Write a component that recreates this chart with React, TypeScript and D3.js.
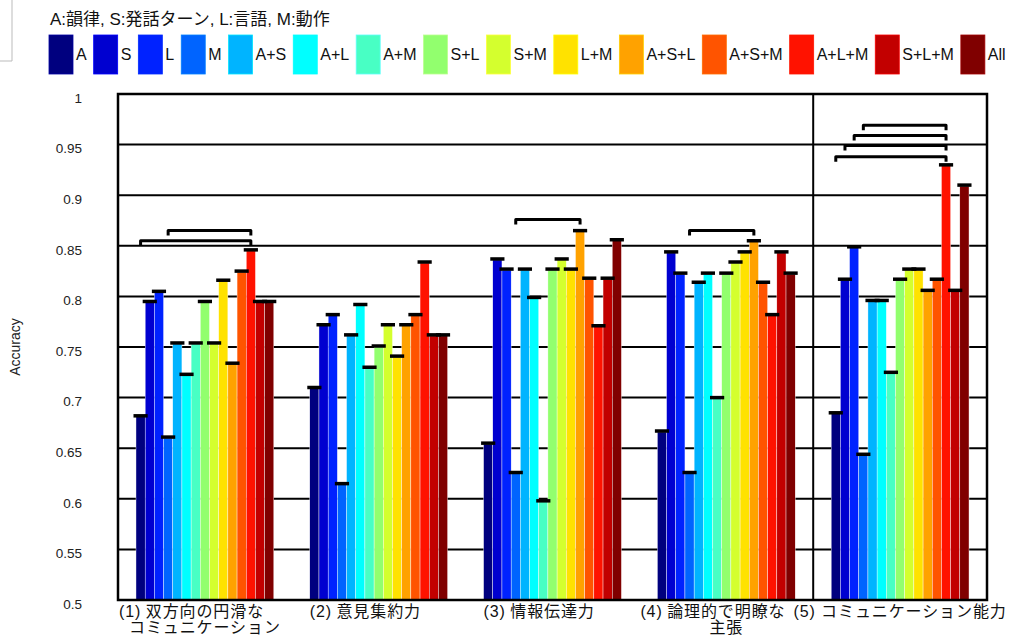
import { useEffect, useRef } from 'react';
import * as d3 from 'd3';

// modality combinations (bar order inside each group)
const modalities = ['A', 'S', 'L', 'M', 'A+S', 'A+L', 'A+M', 'S+L', 'S+M', 'L+M', 'A+S+L', 'A+S+M', 'A+L+M', 'S+L+M', 'All'];
const colors = ['#00007f', '#0000d0', '#0022ff', '#0064ff', '#00b4ff', '#00ffff', '#48ffc4', '#92ff6e', '#d4ff2e', '#ffe200', '#ffa200', '#ff5400', '#ff1200', '#c20000', '#800000'];

// evaluation categories
const prefixes = ['(1)', '(2)', '(3)', '(4)', '(5)'];
const labelLines = [
  ['双方向の円滑な', 'コミュニケーション'],
  ['意見集約力'],
  ['情報伝達力'],
  ['論理的で明瞭な', '主張'],
  ['コミュニケーション能力'],
];

// accuracy per category, in modality order
const cat1 = [0.681, 0.794, 0.804, 0.660, 0.753, 0.722, 0.753, 0.794, 0.753, 0.815, 0.733, 0.824, 0.845, 0.794, 0.794];
const cat2 = [0.709, 0.771, 0.781, 0.614, 0.761, 0.791, 0.729, 0.750, 0.771, 0.740, 0.771, 0.781, 0.833, 0.761, 0.761];
const cat3 = [0.654, 0.836, 0.826, 0.625, 0.826, 0.798, 0.597, 0.826, 0.836, 0.826, 0.864, 0.817, 0.770, 0.817, 0.855];
const cat4 = [0.666, 0.843, 0.822, 0.625, 0.813, 0.822, 0.699, 0.822, 0.833, 0.843, 0.854, 0.813, 0.781, 0.843, 0.822];
const cat5 = [0.684, 0.816, 0.848, 0.643, 0.795, 0.795, 0.724, 0.816, 0.826, 0.826, 0.805, 0.816, 0.929, 0.805, 0.909];
const values = [cat1, cat2, cat3, cat4, cat5];

// significance brackets: category index, from, to, bracket level (accuracy)
const bracketCat = [0, 0, 2, 3, 4, 4, 4, 4];
const bracketFrom = ['M', 'A', 'M', 'M', 'M', 'L', 'S', 'A'];
const bracketTo = ['A+L+M', 'A+L+M', 'A+S+L', 'A+S+L', 'A+L+M', 'A+L+M', 'A+L+M', 'A+L+M'];
const bracketLevel = [0.865, 0.855, 0.876, 0.865, 0.969, 0.959, 0.949, 0.938];

const yTicks = [0.5, 0.55, 0.6, 0.65, 0.7, 0.75, 0.8, 0.85, 0.9, 0.95, 1];

const FONT = '"Liberation Sans", Arial, "Noto Sans CJK JP", sans-serif';

const Chart = () => {
  const svgRef = useRef<SVGSVGElement>(null);

  useEffect(() => {
    const width = 1011;
    const height = 637;
    const margin = { top: 94, right: 24, bottom: 37, left: 118 };
    const svg = d3.select(svgRef.current).attr('width', width).attr('height', height);
    svg.selectAll('*').remove();

    const x0 = d3
      .scaleBand<number>()
      .domain(d3.range(values.length))
      .range([margin.left, width - margin.right])
      .paddingInner(0.207)
      .paddingOuter(0.1035);
    const x1 = d3.scaleBand<string>().domain(modalities).range([0, x0.bandwidth()]);
    const y = d3.scaleLinear().domain([0.5, 1]).range([height - margin.bottom, margin.top]);

    // stray frame corner at top-left
    svg.append('path').attr('d', 'M12,0V61H0').attr('fill', 'none').attr('stroke', '#bbb');

    // title + legend
    svg
      .append('text')
      .attr('x', 50)
      .attr('y', 25)
      .style('font-family', FONT)
      .style('font-size', '17px')
      .attr('fill', '#111')
      .text('A:韻律, S:発話ターン, L:言語, M:動作');

    let lx = 49;
    modalities.forEach((m, i) => {
      svg
        .append('rect')
        .attr('x', lx)
        .attr('y', 35)
        .attr('width', 24)
        .attr('height', 39)
        .attr('fill', colors[i])
        .attr('stroke', d3.color(colors[i])!.brighter(0.7).formatHex())
        .attr('stroke-width', 0.8);
      const t = svg
        .append('text')
        .attr('x', lx + 27)
        .attr('y', 60)
        .style('font-family', FONT)
        .style('font-size', '16px')
        .attr('fill', '#111')
        .text(m);
      const w = (t.node() as SVGTextElement).getComputedTextLength();
      lx += 27 + w + 7;
    });

    // grid lines (behind bars)
    svg
      .append('g')
      .selectAll('line')
      .data(yTicks.slice(1, -1))
      .join('line')
      .attr('x1', margin.left)
      .attr('x2', width - margin.right)
      .attr('y1', d => y(d))
      .attr('y2', d => y(d))
      .attr('stroke', '#000')
      .attr('stroke-width', 2);

    // y tick labels
    svg
      .append('g')
      .selectAll('text')
      .data(yTicks)
      .join('text')
      .attr('x', 82)
      .attr('y', d => y(d) + 4)
      .attr('dy', '0.35em')
      .attr('text-anchor', 'end')
      .style('font-family', FONT)
      .style('font-size', '13.5px')
      .attr('fill', '#222')
      .text(d => String(d));

    svg
      .append('text')
      .attr('transform', `translate(20, ${(margin.top + height - margin.bottom) / 2}) rotate(-90)`)
      .attr('text-anchor', 'middle')
      .style('font-family', FONT)
      .style('font-size', '14px')
      .attr('fill', '#222')
      .text('Accuracy');

    // bars
    const groups = svg
      .append('g')
      .selectAll('g')
      .data(values)
      .join('g')
      .attr('transform', (_, i) => `translate(${x0(i)},0)`);

    groups
      .selectAll('rect')
      .data(d => d)
      .join('rect')
      .attr('x', (_, i) => x1(modalities[i])!)
      .attr('y', d => y(d))
      .attr('width', x1.bandwidth())
      .attr('height', d => y(0.5) - y(d))
      .attr('fill', (_, i) => colors[i])
      .attr('stroke', '#fff')
      .attr('stroke-width', 0.4);

    // error caps
    groups
      .selectAll('line')
      .data(d => d)
      .join('line')
      .attr('x1', (_, i) => x1(modalities[i])! - 2.5)
      .attr('x2', (_, i) => x1(modalities[i])! + x1.bandwidth() + 2.5)
      .attr('y1', d => y(d) - 1)
      .attr('y2', d => y(d) - 1)
      .attr('stroke', '#000')
      .attr('stroke-width', 3.5);

    // frame + divider before last category
    svg
      .append('rect')
      .attr('x', margin.left)
      .attr('y', margin.top)
      .attr('width', width - margin.left - margin.right)
      .attr('height', height - margin.top - margin.bottom)
      .attr('fill', 'none')
      .attr('stroke', '#000')
      .attr('stroke-width', 2.5);

    const divX = x0(values.length - 1)! - (x0.step() - x0.bandwidth()) / 2;
    svg
      .append('line')
      .attr('x1', divX)
      .attr('x2', divX)
      .attr('y1', margin.top)
      .attr('y2', height - margin.bottom)
      .attr('stroke', '#000')
      .attr('stroke-width', 2);

    // significance brackets
    bracketCat.forEach((c, i) => {
      const xa = x0(c)! + x1(bracketFrom[i])! + x1.bandwidth() / 2;
      const xb = x0(c)! + x1(bracketTo[i])! + x1.bandwidth() / 2;
      const yy = y(bracketLevel[i]);
      svg
        .append('path')
        .attr('d', `M${xa},${yy + 5}V${yy}H${xb}V${yy + 5}`)
        .attr('fill', 'none')
        .attr('stroke', '#000')
        .attr('stroke-width', 3)
        .attr('stroke-linejoin', 'round');
    });

    // category labels
    const base = height - margin.bottom + 17;
    labelLines.forEach((lines, i) => {
      const cx = x0(i)! + x0.bandwidth() / 2;
      const label = svg
        .append('g')
        .style('font-family', FONT)
        .style('font-size', '16px')
        .style('letter-spacing', '0.9px')
        .attr('fill', '#111');
      if (i < labelLines.length - 1) {
        const main = label.append('text').attr('x', cx).attr('y', base).attr('text-anchor', 'middle').text(lines[0]);
        const mw = (main.node() as SVGTextElement).getComputedTextLength();
        label
          .append('text')
          .attr('x', cx - mw / 2 - 4.5)
          .attr('y', base)
          .attr('text-anchor', 'end')
          .text(prefixes[i]);
        lines.slice(1).forEach((ln, k) => {
          label
            .append('text')
            .attr('x', cx)
            .attr('y', base + 16 * (k + 1))
            .attr('text-anchor', 'middle')
            .text(ln);
        });
      } else {
        label
          .append('text')
          .attr('x', cx)
          .attr('y', base)
          .attr('text-anchor', 'middle')
          .text(`${prefixes[i]} ${lines[0]}`);
      }
    });
  }, []);

  return <svg ref={svgRef} style={{ position: 'absolute', left: 0, top: 0, display: 'block' }} />;
};

export default function App() {
  return <Chart />;
}
